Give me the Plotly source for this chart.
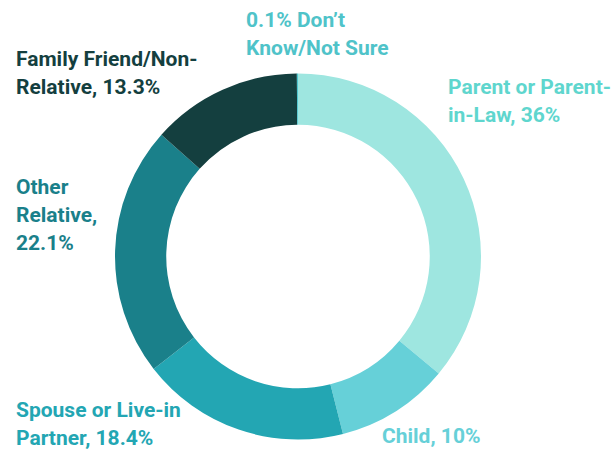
import plotly.graph_objects as go

categories = ["Parent or Parent-in-Law", "Child", "Spouse or Live-in Partner",
              "Other Relative", "Family Friend/Non-Relative", "Don’t Know/Not Sure"]
values = [36, 10, 18.4, 22.1, 13.3, 0.1]
slice_colors = ["#9ee6e0", "#66d0d8", "#23a6b3", "#1a808a", "#143f3f", "#4fc6cf"]

# label lines (text) with their left x and line-center y positions in pixels
label_lines = [
    (["0.1% Don’t", "Know/Not Sure"], "#4fc3c9", 245, 20),
    (["Family Friend/Non-", "Relative, 13.3%"], "#143f3f", 15, 59),
    (["Parent or Parent-", "in-Law, 36%"], "#5fd6ce", 447, 87),
    (["Other", "Relative,", "22.1%"], "#1a808a", 15, 187),
    (["Spouse or Live-in", "Partner, 18.4%"], "#23a6b3", 15, 410),
    (["Child, 10%"], "#66d0d8", 381, 436),
]

W, H = 611, 450
fig = go.Figure(go.Pie(
    labels=categories, values=values, sort=False, direction="clockwise",
    rotation=0, hole=0.72, textinfo="none",
    marker=dict(colors=slice_colors, line=dict(width=0)),
    domain=dict(x=[115 / W, 481 / W], y=[(H - 440) / H, (H - 73) / H]),
    showlegend=False,
))

annotations = []
for lines, color, x0, y0 in label_lines:
    for i, line in enumerate(lines):
        annotations.append(dict(
            text=line, x=x0 / W, y=1 - (y0 + 28 * i) / H,
            xref="paper", yref="paper", xanchor="left", yanchor="middle",
            showarrow=False, borderpad=0,
            font=dict(family="Roboto", size=21, color=color, weight="bold"),
        ))

fig.update_layout(
    width=W, height=H, margin=dict(l=0, r=0, t=0, b=0),
    paper_bgcolor="white", plot_bgcolor="white",
    annotations=annotations,
)
fig.write_html("out.html", config={"displayModeBar": False},
               post_script="document.body.style.margin='0';")
